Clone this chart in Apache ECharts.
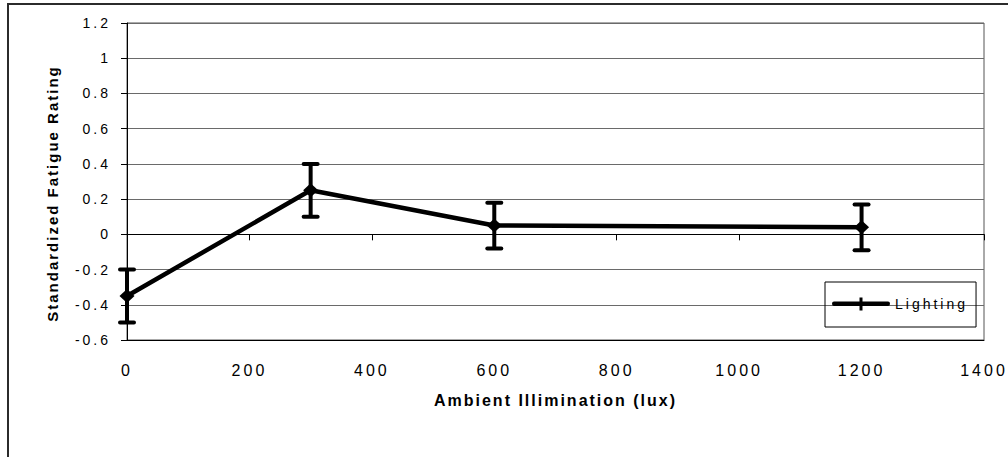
<!DOCTYPE html>
<html>
<head>
<meta charset="utf-8">
<script src="https://cdn.jsdelivr.net/npm/echarts@6/dist/echarts.min.js"></script>
<style>
  html, body { margin: 0; padding: 0; background: #fff; }
  #chart { width: 1008px; height: 457px; }
  /* wide, spaced-out lettering of the labels */
  #chart text { letter-spacing: 3px; }
  #chart text[style*="bold"] { letter-spacing: 2px; }
</style>
</head>
<body>
<div id="chart"></div>
<script>
// Ambient illumination levels (lux) and standardized fatigue ratings
const illumination = [0, 300, 600, 1200];
const fatigueMean = [-0.35, 0.25, 0.05, 0.04];
const fatigueError = [0.15, 0.15, 0.13, 0.13];

const xTickLabels = ['0', '200', '400', '600', '800', '1000', '1200', '1400'];
const yTickLabels = ['-0.6', '-0.4', '-0.2', '0', '0.2', '0.4', '0.6', '0.8', '1', '1.2'];

const seriesName = 'Lighting';
const xTitle = 'Ambient Illimination (lux)';
const yTitle = 'Standardized Fatigue Rating';

const X_MIN = 0, X_MAX = 1400, X_STEP = 200;
const Y_MIN = -0.6, Y_MAX = 1.2, Y_STEP = 0.2;

const lineData = illumination.map((x, i) => [x, fatigueMean[i]]);
const errorData = illumination.map((x, i) => [x, fatigueMean[i] - fatigueError[i], fatigueMean[i] + fatigueError[i]]);

const FONT = '"Liberation Sans", Arial, Helvetica, sans-serif';

const chart = echarts.init(document.getElementById('chart'), null, { renderer: 'svg' });

chart.setOption({
  animation: false,
  backgroundColor: '#fff',
  textStyle: { fontFamily: FONT, color: '#000' },
  graphic: [{
    // outer chart frame
    type: 'rect',
    silent: true,
    shape: { x: 8, y: 4, width: 1200, height: 700 },
    style: { fill: 'none', stroke: '#2b2b2b', lineWidth: 2 }
  }],
  grid: {
    left: 127, right: 24, top: 23, bottom: 117,
    show: true, borderColor: '#555', borderWidth: 1, backgroundColor: 'transparent'
  },
  legend: {
    data: [{
      name: seriesName,
      icon: 'path://M2,5 L56,5 Q58,5 58,7.25 Q58,9.5 56,9.5 L2,9.5 Q0,9.5 0,7.25 Q0,5 2,5 Z M27.5,1 L30.5,1 L30.5,14 L27.5,14 Z'
    }],
    left: 825, top: 282,
    itemWidth: 58, itemHeight: 14, itemGap: 5,
    padding: [15, 32, 16, 7],
    borderColor: '#000', borderWidth: 1,
    textStyle: { fontSize: 14, color: '#000', fontFamily: FONT },
    itemStyle: { color: '#000', borderWidth: 0 }
  },
  xAxis: [{
    type: 'value', min: X_MIN, max: X_MAX, interval: X_STEP,
    position: 'bottom',
    axisLine: { onZero: false, lineStyle: { color: '#000', width: 1 } },
    axisTick: { show: false },
    splitLine: { show: false },
    axisLabel: {
      margin: 22, fontSize: 16, color: '#000', fontFamily: FONT,
      formatter: v => xTickLabels[Math.round((v - X_MIN) / X_STEP)]
    },
    name: xTitle, nameLocation: 'middle', nameGap: 52,
    nameTextStyle: { fontWeight: 'bold', fontSize: 16, color: '#000', fontFamily: FONT }
  }, {
    // axis line through zero with its tick marks
    type: 'value', min: X_MIN, max: X_MAX, interval: X_STEP,
    position: 'bottom',
    axisLine: { onZero: true, lineStyle: { color: '#000', width: 1 } },
    axisTick: { show: true, length: 6, lineStyle: { color: '#000', width: 1 } },
    axisLabel: { show: false },
    splitLine: { show: false }
  }],
  yAxis: {
    type: 'value', min: Y_MIN, max: Y_MAX, interval: Y_STEP,
    axisLine: { show: true, onZero: false, lineStyle: { color: '#000', width: 1 } },
    axisTick: { show: true, length: 6, lineStyle: { color: '#000', width: 1 } },
    splitLine: { show: true, lineStyle: { color: '#6a6a6a', width: 1 } },
    axisLabel: {
      margin: 16, fontSize: 14, color: '#000', fontFamily: FONT,
      formatter: v => yTickLabels[Math.round((v - Y_MIN) / Y_STEP)]
    },
    name: yTitle, nameLocation: 'middle', nameGap: 67,
    nameTextStyle: { fontWeight: 'bold', fontSize: 15, color: '#000', fontFamily: FONT, padding: [0, 24, 0, 0] }
  },
  series: [{
    name: seriesName + ' error',
    type: 'custom',
    xAxisIndex: 0, yAxisIndex: 0,
    z: 3,
    data: errorData,
    encode: { x: 0, y: [1, 2] },
    renderItem: function (params, api) {
      const x = api.value(0);
      const lo = api.coord([x, api.value(1)]);
      const hi = api.coord([x, api.value(2)]);
      const half = 7;
      const capStyle = { stroke: '#000', lineWidth: 4, lineCap: 'round', fill: null };
      return {
        type: 'group',
        children: [
          { type: 'line', shape: { x1: lo[0], y1: lo[1], x2: hi[0], y2: hi[1] }, style: { stroke: '#000', lineWidth: 4, fill: null } },
          { type: 'line', shape: { x1: lo[0] - half, y1: lo[1], x2: lo[0] + half, y2: lo[1] }, style: capStyle },
          { type: 'line', shape: { x1: hi[0] - half, y1: hi[1], x2: hi[0] + half, y2: hi[1] }, style: capStyle }
        ]
      };
    }
  }, {
    name: seriesName,
    type: 'line',
    xAxisIndex: 0, yAxisIndex: 0,
    z: 4,
    data: lineData,
    symbol: 'diamond',
    symbolSize: [15, 14],
    itemStyle: { color: '#000' },
    lineStyle: { color: '#000', width: 4.5 }
  }]
});
</script>
</body>
</html>
